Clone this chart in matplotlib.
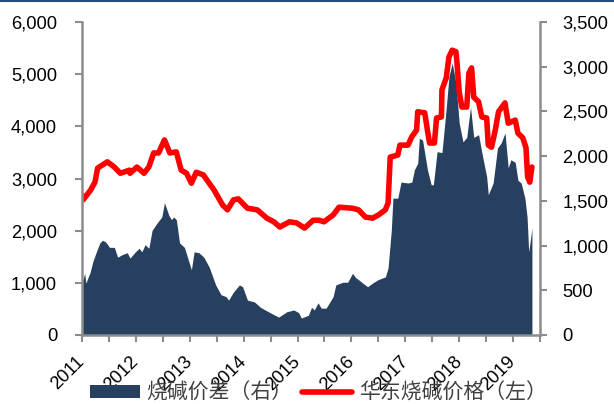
import matplotlib
matplotlib.use("Agg")
import matplotlib.pyplot as plt
from matplotlib.lines import Line2D
import numpy as np

# ---- data (decimal years) ----
price_t = [2011.00, 2011.02, 2011.16, 2011.24, 2011.29, 2011.47, 2011.60, 2011.71, 2011.88, 2011.89,
           2012.02, 2012.15, 2012.24, 2012.33, 2012.42, 2012.53, 2012.63, 2012.75, 2012.84, 2012.94,
           2013.03, 2013.12, 2013.25, 2013.36, 2013.45, 2013.61, 2013.70, 2013.81, 2013.90, 2014.07,
           2014.25, 2014.43, 2014.56, 2014.67, 2014.85, 2014.98, 2015.13, 2015.29, 2015.40, 2015.49,
           2015.66, 2015.77, 2016.02, 2016.13, 2016.26, 2016.39, 2016.50, 2016.63, 2016.68, 2016.72,
           2016.86, 2016.90, 2017.05, 2017.12, 2017.21, 2017.23, 2017.36, 2017.41, 2017.45, 2017.54,
           2017.58, 2017.67, 2017.68, 2017.76, 2017.81, 2017.87, 2017.94, 2017.96, 2018.00, 2018.05,
           2018.14, 2018.18, 2018.23, 2018.27, 2018.36, 2018.42, 2018.51, 2018.54, 2018.60, 2018.67,
           2018.73, 2018.85, 2018.91, 2019.04, 2019.09, 2019.18, 2019.24, 2019.27, 2019.31, 2019.35]
price_east_china = [2680, 2590, 2780, 2930, 3200, 3320, 3220, 3100, 3160, 3100,
                    3220, 3100, 3220, 3490, 3490, 3740, 3490, 3510, 3160, 3100,
                    2910, 3120, 3070, 2910, 2780, 2490, 2400, 2590, 2610, 2430,
                    2400, 2240, 2170, 2070, 2170, 2150, 2050, 2200, 2200, 2170,
                    2300, 2450, 2430, 2400, 2260, 2240, 2300, 2400, 2530, 3410,
                    3450, 3640, 3640, 3800, 3930, 4280, 4260, 3930, 3680, 3680,
                    4160, 4180, 4700, 4930, 5330, 5460, 5430, 5210, 4660, 4370,
                    4370, 5020, 5120, 4560, 4470, 4180, 4160, 3640, 3600, 3930,
                    4280, 4450, 4060, 4120, 3870, 3780, 3590, 3030, 2930, 3220]

spread_t = [2011.00, 2011.05, 2011.07, 2011.15, 2011.20, 2011.26, 2011.33, 2011.38, 2011.44, 2011.51,
            2011.60, 2011.66, 2011.75, 2011.84, 2011.89, 2011.99, 2012.06, 2012.11, 2012.17, 2012.24,
            2012.30, 2012.39, 2012.48, 2012.53, 2012.61, 2012.66, 2012.70, 2012.75, 2012.81, 2012.90,
            2013.03, 2013.08, 2013.17, 2013.26, 2013.36, 2013.48, 2013.58, 2013.67, 2013.72, 2013.81,
            2013.92, 2013.98, 2014.07, 2014.20, 2014.31, 2014.49, 2014.65, 2014.80, 2014.93, 2015.02,
            2015.07, 2015.20, 2015.26, 2015.31, 2015.38, 2015.44, 2015.53, 2015.66, 2015.71, 2015.84,
            2015.93, 2016.02, 2016.08, 2016.13, 2016.21, 2016.30, 2016.39, 2016.50, 2016.63, 2016.68,
            2016.74, 2016.77, 2016.86, 2016.92, 2017.05, 2017.12, 2017.17, 2017.23, 2017.26, 2017.32,
            2017.41, 2017.48, 2017.52, 2017.59, 2017.68, 2017.76, 2017.81, 2017.87, 2017.94, 2018.00,
            2018.07, 2018.14, 2018.21, 2018.27, 2018.36, 2018.42, 2018.51, 2018.54, 2018.63, 2018.71,
            2018.78, 2018.85, 2018.91, 2018.96, 2019.04, 2019.09, 2019.15, 2019.22, 2019.26, 2019.29,
            2019.33, 2019.35]
spread = [580, 690, 580, 700, 820, 920, 1030, 1060, 1040, 980,
          980, 870, 900, 920, 860, 930, 970, 930, 1010, 970,
          1170, 1250, 1320, 1480, 1340, 1290, 1320, 1290, 1030, 980,
          730, 930, 920, 870, 760, 560, 450, 430, 390, 480,
          560, 540, 390, 370, 310, 250, 200, 260, 280, 250,
          190, 220, 310, 280, 360, 300, 300, 430, 560, 590,
          590, 690, 640, 620, 580, 540, 580, 620, 650, 750,
          1170, 1530, 1530, 1710, 1700, 1710, 1850, 1920, 2200, 2180,
          1850, 1680, 1680, 2050, 2040, 2540, 2890, 3040, 2820, 2370,
          2160, 2210, 2550, 2210, 2240, 2040, 1770, 1570, 1700, 2090,
          2150, 2260, 1870, 1960, 1930, 1730, 1700, 1530, 1320, 930,
          1100, 1200]

year_labels = ['2011', '2012', '2013', '2014', '2015', '2016', '2017', '2018', '2019']
left_ticks = [0, 1000, 2000, 3000, 4000, 5000, 6000]
right_ticks = [0, 500, 1000, 1500, 2000, 2500, 3000, 3500]
label_spread = '烧碱价差（右）'
label_price = '华东烧碱价格（左）'

# ---- figure ----
plt.rcParams['font.family'] = ['Liberation Sans', 'DejaVu Sans', 'Noto Sans CJK SC']
fig = plt.figure(figsize=(6.14, 4.04), dpi=100)
ax = fig.add_axes([0.1336, 0.1708, 0.8795 - 0.1336, 0.9455 - 0.1708])
ax2 = ax.twinx()

navy = '#27405F'
red = '#FF0000'
grey = '#8C8C8C'

area = ax2.fill_between(spread_t, 0, spread, color=navy, lw=0, label=label_spread)
line, = ax.plot(price_t, price_east_china, color=red, lw=4.0, solid_joinstyle='round',
                solid_capstyle='round', label=label_price)

ax.set_zorder(ax2.get_zorder() + 1)
ax.patch.set_visible(False)

ax.set_xlim(2011.0, 2019.365)
ax.set_ylim(0, 6000)
ax2.set_ylim(0, 3500)

ax.set_yticks(left_ticks)
ax.set_yticklabels([f'{v:,}' for v in left_ticks])
ax2.set_yticks(right_ticks)
ax2.set_yticklabels([f'{v:,}' for v in right_ticks])

xt = np.arange(2011.0, 2019.51, 0.5)
ax.set_xticks(xt)
labs = []
for v in xt:
    labs.append(year_labels[int(v) - 2011] if float(v).is_integer() else '')
ax.set_xticklabels(labs, rotation=45, ha='right', rotation_mode='anchor', va='center')

for a in (ax, ax2):
    for s in a.spines.values():
        s.set_visible(False)
    a.tick_params(colors=grey, labelcolor='black', labelsize=13.2, width=1.5, length=5)
ax.spines['left'].set_visible(True)
ax.spines['bottom'].set_visible(True)
ax2.spines['right'].set_visible(True)
for s in (ax.spines['left'], ax.spines['bottom'], ax2.spines['right']):
    s.set_color(grey)
    s.set_linewidth(1.8)
ax.tick_params(axis='x', pad=12)
ax.tick_params(axis='y', pad=13)
ax2.tick_params(axis='y', pad=11)

leg = fig.legend([area, line], [label_spread, label_price], loc='center',
                 bbox_to_anchor=(0.518, 0.028), ncol=2, frameon=False,
                 prop={'family': ['Noto Sans CJK SC', 'DejaVu Sans'], 'size': 15},
                 handlelength=2.4, handleheight=0.55, columnspacing=0.5, handletextpad=0.3,
                 labelcolor='#404040')

fig.add_artist(Line2D([0, 1], [0.998, 0.998], transform=fig.transFigure, color='#1F4E79', lw=1.5))

fig.savefig('out.png', dpi=100)
